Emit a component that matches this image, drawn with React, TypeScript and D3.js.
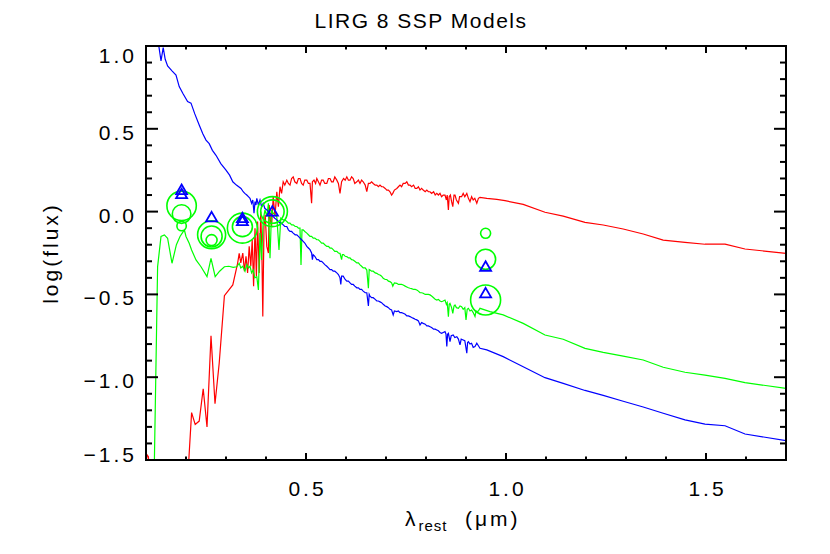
import * as d3 from 'd3'

// spectra: [wavelength (um), log flux]
const redSpec: [number, number][] = [
  [0.100,-1.52],[0.103,-1.47],[0.106,-1.48],[0.109,-1.58],[0.150,-1.9],[0.200,-1.75],
  [0.207,-1.50],[0.214,-1.214],[0.223,-1.285],[0.233,-1.265],[0.243,-1.07],[0.2525,-1.30],[0.2625,-0.75],
  [0.2725,-1.16],[0.283,-0.916],[0.296,-0.508],[0.317,-0.443],[0.329,-0.312],[0.333,-0.252],
  [0.337,-0.31],[0.342,-0.25],[0.346,-0.36],[0.350,-0.27],[0.354,-0.37],[0.358,-0.21],[0.362,-0.33],
  [0.3655,-0.17],[0.369,-0.45],[0.3725,-0.10],[0.376,-0.39],[0.379,-0.06],[0.383,-0.37],[0.387,0.0],
  [0.390,-0.30],[0.392,-0.634],[0.395,-0.09],[0.398,-0.02],[0.402,-0.21],[0.406,-0.25],[0.408,0.04],
  [0.411,-0.05],[0.414,-0.09],[0.418,0.09],[0.4225,-0.03],[0.427,0.12],[0.431,0.03],[0.435,0.15],
  [0.439,0.11],[0.443,0.18],[0.447,0.16],[0.452,0.19],[0.456,0.17],[0.460,0.16],[0.464,0.20],[0.468,0.21],
  [0.472,0.18],[0.477,0.17],[0.481,0.20],[0.485,0.20],[0.489,0.17],[0.493,0.16],[0.497,0.19],[0.502,0.19],
  [0.506,0.17],[0.510,0.17],[0.514,0.05],[0.516,0.18],[0.520,0.19],[0.524,0.17],[0.527,0.20],[0.531,0.18],
  [0.535,0.16],[0.539,0.19],[0.543,0.19],[0.547,0.17],[0.552,0.17],[0.556,0.20],[0.560,0.20],[0.564,0.18],
  [0.568,0.18],[0.572,0.21],[0.577,0.19],[0.581,0.17],[0.585,0.11],[0.589,0.18],[0.594,0.20],[0.598,0.19],
  [0.602,0.21],[0.606,0.19],[0.610,0.19],[0.614,0.21],[0.618,0.20],[0.622,0.17],[0.627,0.18],[0.631,0.19],
  [0.635,0.17],[0.639,0.19],[0.643,0.18],[0.648,0.16],[0.652,0.12],[0.656,0.17],[0.660,0.17],[0.664,0.18],
  [0.668,0.17],[0.673,0.16],[0.677,0.16],[0.681,0.15],[0.685,0.16],[0.689,0.15],[0.693,0.15],[0.698,0.14],
  [0.702,0.13],[0.706,0.13],[0.710,0.12],[0.714,0.10],[0.717,0.11],[0.721,0.13],[0.727,0.14],[0.731,0.15],
  [0.735,0.16],[0.739,0.15],[0.743,0.17],[0.748,0.17],[0.752,0.18],[0.756,0.16],[0.760,0.16],[0.764,0.15],
  [0.769,0.16],[0.773,0.14],[0.777,0.14],[0.781,0.15],[0.785,0.13],[0.789,0.14],[0.793,0.13],[0.798,0.12],
  [0.802,0.13],[0.806,0.12],[0.810,0.12],[0.814,0.11],[0.819,0.12],[0.823,0.10],[0.827,0.11],[0.831,0.10],
  [0.835,0.11],[0.839,0.09],[0.843,0.10],[0.8475,0.10],[0.851,0.07],[0.853,0.10],[0.856,0.01],[0.858,0.09],
  [0.861,0.10],[0.864,0.06],[0.867,0.03],[0.870,0.10],[0.8725,0.10],[0.876,0.07],[0.881,0.05],[0.884,0.09],
  [0.889,0.09],[0.893,0.11],[0.897,0.09],[0.902,0.11],[0.906,0.08],[0.910,0.06],[0.914,0.09],[0.918,0.07],
  [0.922,0.08],[0.927,0.05],[0.931,0.08],[0.935,0.086],[0.952,0.08],[0.977,0.074],[0.9975,0.066],
  [1.043,0.044],[1.0975,-0.004],[1.143,-0.027],[1.1975,-0.065],[1.243,-0.081],[1.293,-0.105],[1.343,-0.135],
  [1.393,-0.172],[1.4475,-0.186],[1.4975,-0.197],[1.5475,-0.197],[1.5975,-0.226],[1.70,-0.252],
]

const greenSpec: [number, number][] = [
  [0.115,-1.9],[0.121,-1.5],[0.129,-0.333],[0.1375,-0.15],[0.146,-0.141],[0.154,-0.161],[0.165,-0.312],
  [0.176,-0.20],[0.185,-0.15],[0.193,-0.121],[0.196,-0.111],[0.200,-0.15],[0.208,-0.191],[0.214,-0.232],
  [0.225,-0.292],[0.2375,-0.333],[0.2525,-0.393],[0.2625,-0.282],[0.273,-0.393],[0.284,-0.36],[0.296,-0.333],
  [0.307,-0.33],[0.318,-0.337],[0.327,-0.333],[0.333,-0.312],[0.337,-0.34],[0.342,-0.33],[0.3475,-0.36],
  [0.352,-0.32],[0.356,-0.34],[0.360,-0.33],[0.364,-0.37],[0.368,-0.353],[0.372,-0.40],[0.377,-0.393],
  [0.381,-0.473],[0.385,-0.13],[0.389,-0.292],[0.393,-0.05],[0.3975,0.01],[0.402,-0.03],[0.406,0.05],
  [0.41,-0.282],[0.414,0.01],[0.418,-0.01],[0.422,-0.02],[0.427,-0.03],[0.4325,-0.232],[0.437,-0.04],
  [0.443,-0.05],[0.447,-0.05],[0.452,-0.06],[0.456,-0.07],[0.46,-0.07],[0.464,-0.08],[0.468,-0.08],
  [0.473,-0.09],[0.477,-0.09],[0.481,-0.10],[0.485,-0.10],[0.4875,-0.322],[0.490,-0.11],[0.493,-0.11],
  [0.497,-0.12],[0.502,-0.13],[0.506,-0.14],[0.510,-0.15],[0.514,-0.15],[0.518,-0.16],[0.522,-0.16],
  [0.527,-0.17],[0.531,-0.17],[0.535,-0.18],[0.539,-0.19],[0.543,-0.19],[0.547,-0.20],[0.552,-0.21],
  [0.556,-0.21],[0.560,-0.22],[0.564,-0.22],[0.568,-0.23],[0.572,-0.24],[0.577,-0.24],[0.581,-0.25],
  [0.585,-0.252],[0.589,-0.29],[0.591,-0.26],[0.594,-0.26],[0.598,-0.27],[0.602,-0.272],[0.606,-0.28],
  [0.610,-0.28],[0.614,-0.29],[0.618,-0.292],[0.622,-0.30],[0.627,-0.31],[0.631,-0.31],[0.635,-0.322],
  [0.639,-0.33],[0.643,-0.34],[0.648,-0.34],[0.652,-0.353],[0.656,-0.463],[0.658,-0.35],[0.660,-0.353],
  [0.664,-0.36],[0.668,-0.36],[0.673,-0.37],[0.677,-0.373],[0.681,-0.38],[0.685,-0.383],[0.689,-0.39],
  [0.693,-0.403],[0.698,-0.41],[0.702,-0.41],[0.706,-0.42],[0.710,-0.423],[0.714,-0.43],[0.717,-0.45],
  [0.721,-0.43],[0.727,-0.433],[0.731,-0.44],[0.735,-0.44],[0.739,-0.44],[0.743,-0.443],[0.748,-0.45],
  [0.752,-0.455],[0.756,-0.46],[0.760,-0.463],[0.764,-0.465],[0.769,-0.47],[0.773,-0.47],[0.777,-0.473],
  [0.781,-0.48],[0.785,-0.49],[0.789,-0.49],[0.793,-0.493],[0.798,-0.50],[0.802,-0.50],[0.806,-0.50],
  [0.810,-0.503],[0.814,-0.51],[0.819,-0.52],[0.823,-0.53],[0.827,-0.534],[0.831,-0.53],[0.835,-0.54],
  [0.839,-0.544],[0.843,-0.54],[0.8475,-0.534],[0.851,-0.56],[0.853,-0.55],[0.856,-0.634],[0.858,-0.56],
  [0.860,-0.554],[0.864,-0.58],[0.867,-0.614],[0.870,-0.57],[0.8725,-0.564],[0.876,-0.58],[0.881,-0.584],
  [0.885,-0.57],[0.889,-0.574],[0.893,-0.59],[0.897,-0.58],[0.900,-0.654],[0.903,-0.59],[0.906,-0.584],
  [0.910,-0.60],[0.914,-0.594],[0.918,-0.61],[0.9225,-0.634],[0.925,-0.60],[0.927,-0.604],[0.931,-0.60],
  [0.935,-0.584],[0.960,-0.604],[0.993,-0.624],[1.043,-0.675],[1.0975,-0.745],[1.143,-0.771],[1.1975,-0.826],
  [1.243,-0.85],[1.293,-0.873],[1.343,-0.896],[1.393,-0.94],[1.4475,-0.97],[1.4975,-0.987],[1.5475,-1.007],
  [1.5975,-1.033],[1.70,-1.067],
]

const blueSpec: [number, number][] = [
  [0.120,1.20],[0.132,1.00],[0.1375,0.91],[0.143,0.99],[0.148,0.92],[0.154,0.88],[0.165,0.85],[0.175,0.825],
  [0.183,0.755],[0.193,0.71],[0.204,0.665],[0.2125,0.655],[0.222,0.59],[0.233,0.523],[0.242,0.47],[0.25,0.432],
  [0.258,0.41],[0.266,0.37],[0.275,0.34],[0.287,0.29],[0.30,0.25],[0.309,0.22],[0.317,0.18],[0.326,0.16],
  [0.3375,0.14],[0.343,0.12],[0.347,0.11],[0.352,0.10],[0.356,0.09],[0.360,0.08],[0.364,0.05],[0.367,0.07],
  [0.370,-0.01],[0.3725,0.06],[0.375,0.04],[0.377,0.08],[0.381,0.04],[0.385,0.07],[0.389,0.03],[0.393,0.05],
  [0.397,0.02],[0.402,0.01],[0.406,0.0],[0.410,-0.01],[0.414,-0.02],[0.418,-0.03],[0.422,-0.04],[0.427,-0.05],
  [0.431,-0.06],[0.435,-0.07],[0.439,-0.07],[0.443,-0.08],[0.447,-0.09],[0.452,-0.09],[0.456,-0.11],[0.460,-0.12],
  [0.464,-0.12],[0.468,-0.13],[0.473,-0.14],[0.477,-0.14],[0.481,-0.15],[0.485,-0.16],[0.489,-0.17],[0.493,-0.18],
  [0.497,-0.19],[0.502,-0.21],[0.506,-0.22],[0.510,-0.23],[0.514,-0.25],[0.516,-0.29],[0.518,-0.26],[0.522,-0.27],
  [0.527,-0.29],[0.531,-0.29],[0.535,-0.30],[0.539,-0.30],[0.543,-0.31],[0.547,-0.32],[0.552,-0.33],[0.556,-0.34],
  [0.560,-0.35],[0.564,-0.35],[0.568,-0.36],[0.572,-0.36],[0.577,-0.37],[0.581,-0.38],[0.585,-0.40],[0.587,-0.44],
  [0.589,-0.39],[0.593,-0.39],[0.598,-0.41],[0.602,-0.42],[0.606,-0.42],[0.610,-0.43],[0.614,-0.44],[0.618,-0.44],
  [0.622,-0.45],[0.627,-0.46],[0.631,-0.46],[0.635,-0.47],[0.639,-0.47],[0.643,-0.48],[0.648,-0.49],[0.652,-0.49],
  [0.656,-0.57],[0.658,-0.50],[0.660,-0.51],[0.664,-0.52],[0.668,-0.52],[0.673,-0.53],[0.677,-0.54],[0.681,-0.54],
  [0.685,-0.545],[0.689,-0.55],[0.693,-0.56],[0.698,-0.57],[0.702,-0.574],[0.706,-0.58],[0.710,-0.59],[0.714,-0.594],
  [0.718,-0.624],[0.721,-0.60],[0.727,-0.604],[0.731,-0.60],[0.735,-0.61],[0.739,-0.61],[0.743,-0.614],[0.748,-0.62],
  [0.752,-0.63],[0.756,-0.63],[0.760,-0.634],[0.764,-0.64],[0.769,-0.645],[0.773,-0.65],[0.777,-0.654],[0.781,-0.66],
  [0.785,-0.685],[0.789,-0.67],[0.793,-0.675],[0.798,-0.68],[0.802,-0.69],[0.806,-0.69],[0.810,-0.695],[0.814,-0.70],
  [0.819,-0.71],[0.823,-0.71],[0.827,-0.715],[0.831,-0.72],[0.835,-0.73],[0.839,-0.735],[0.843,-0.73],[0.8475,-0.725],
  [0.850,-0.74],[0.852,-0.815],[0.854,-0.74],[0.856,-0.735],[0.858,-0.76],[0.860,-0.785],[0.863,-0.75],[0.868,-0.745],
  [0.872,-0.76],[0.877,-0.755],[0.881,-0.77],[0.885,-0.805],[0.888,-0.77],[0.893,-0.775],[0.897,-0.78],[0.902,-0.855],
  [0.904,-0.79],[0.906,-0.785],[0.910,-0.80],[0.914,-0.795],[0.918,-0.82],[0.9225,-0.815],[0.927,-0.795],[0.931,-0.81],
  [0.935,-0.825],[0.952,-0.835],[0.993,-0.876],[1.043,-0.937],[1.0975,-1.003],[1.143,-1.037],[1.1975,-1.08],
  [1.243,-1.11],[1.293,-1.145],[1.343,-1.18],[1.393,-1.218],[1.4475,-1.258],[1.4975,-1.283],[1.5475,-1.293],
  [1.5975,-1.343],[1.70,-1.383],
]

// photometry
const triWave = [0.189, 0.189, 0.264, 0.341, 0.341, 0.416, 0.949, 0.949]
const triFlux = [0.13, 0.105, -0.035, -0.04, -0.058, 0.0, -0.333, -0.494]
const circWave = [0.189, 0.189, 0.189, 0.264, 0.264, 0.264, 0.341, 0.341, 0.416, 0.416, 0.949, 0.949, 0.949]
const circFlux = [0.035, -0.015, -0.087, -0.14, -0.15, -0.172, -0.10, -0.091, 0.0, 0.0, -0.131, -0.288, -0.534]
const circSize = [14.7, 9.3, 4.7, 14, 10.5, 5.5, 15, 10, 15, 11.7, 5, 10, 15]

const xTickValues = [0.5, 1.0, 1.5]
const yTickValues = [-1.5, -1.0, -0.5, 0.0, 0.5, 1.0]

const W = 830, H = 554
const L = 146, R = 786, T = 46, B = 460
const FONT = '"Liberation Sans", Arial, sans-serif'

export default function App() {
  const x = d3.scaleLinear().domain([0.1, 1.7]).range([L, R])
  const y = d3.scaleLinear().domain([-1.5, 1.0]).range([B, T])
  const line = d3.line<[number, number]>().x(d => x(d[0])).y(d => y(d[1]))
  const fmt = (v: number) => d3.format('.1f')(v).replace('-', '\u2212')

  const xMinor = x.ticks(16).filter(t => !xTickValues.some(m => Math.abs(m - t) < 1e-6))
  const yMinor = y.ticks(25).filter(t => !yTickValues.some(m => Math.abs(m - t) < 1e-6))

  return (
    <svg width={W} height={H} style={{ position: 'absolute', left: 0, top: 0, background: '#fff' }}>
      <defs>
        <clipPath id="plot"><rect x={L} y={T} width={R - L} height={B - T} /></clipPath>
      </defs>
      <rect width={W} height={H} fill="#fff" />

      <g clipPath="url(#plot)" fill="none" strokeWidth={1.2}>
        <path d={line(redSpec) || ''} stroke="#ff0000" />
        <path d={line(greenSpec) || ''} stroke="#00ff00" />
        <path d={line(blueSpec) || ''} stroke="#0000ff" />
      </g>

      <g fill="none" stroke="#00ff00" strokeWidth={1.6}>
        {circWave.map((w, i) => (
          <circle key={i} cx={x(w)} cy={y(circFlux[i])} r={circSize[i]} />
        ))}
      </g>
      <g fill="none" stroke="#0000ff" strokeWidth={1.8}>
        {triWave.map((w, i) => (
          <path key={i} transform={`translate(${x(w)},${y(triFlux[i])})`} d="M0,-5.5L5.5,4L-5.5,4Z" />
        ))}
      </g>

      {/* axes box + ticks */}
      <g stroke="#000" strokeWidth={2}>
        {xTickValues.map(t => (
          <g key={'xm' + t}>
            <line x1={x(t)} x2={x(t)} y1={B} y2={B - 7} />
            <line x1={x(t)} x2={x(t)} y1={T} y2={T + 7} />
          </g>
        ))}
        {xMinor.map(t => (
          <g key={'xn' + t}>
            <line x1={x(t)} x2={x(t)} y1={B} y2={B - 3.5} />
            <line x1={x(t)} x2={x(t)} y1={T} y2={T + 3.5} />
          </g>
        ))}
        {yTickValues.map(t => (
          <g key={'ym' + t}>
            <line x1={L} x2={L + 12} y1={y(t)} y2={y(t)} />
            <line x1={R} x2={R - 12} y1={y(t)} y2={y(t)} />
          </g>
        ))}
        {yMinor.map(t => (
          <g key={'yn' + t}>
            <line x1={L} x2={L + 6} y1={y(t)} y2={y(t)} />
            <line x1={R} x2={R - 6} y1={y(t)} y2={y(t)} />
          </g>
        ))}
        <rect x={L} y={T} width={R - L} height={B - T} fill="none" />
      </g>

      <g fontFamily={FONT} fontSize={21} fill="#000" letterSpacing={3}>
        {xTickValues.map(t => (
          <text key={'xl' + t} x={x(t) + 1.5} y={496} textAnchor="middle">{fmt(t)}</text>
        ))}
        {yTickValues.map(t => (
          <text key={'yl' + t} x={137} y={Math.max(63, Math.min(462, y(t) + 11))} textAnchor="end">{fmt(t)}</text>
        ))}
        <text transform={`translate(58,${(T + B) / 2}) rotate(-90)`} textAnchor="middle">log(flux)</text>
        <text y={526}>
          <tspan x={405}>λ</tspan>
          <tspan fontSize={15} dy={5} letterSpacing={1}>rest</tspan>
          <tspan x={465} dy={-5}>(μm)</tspan>
        </text>
      </g>
      <text x={421} y={28} textAnchor="middle" fontFamily={FONT} fontSize={21} letterSpacing={1.5}>
        LIRG 8 SSP Models
      </text>
    </svg>
  )
}
